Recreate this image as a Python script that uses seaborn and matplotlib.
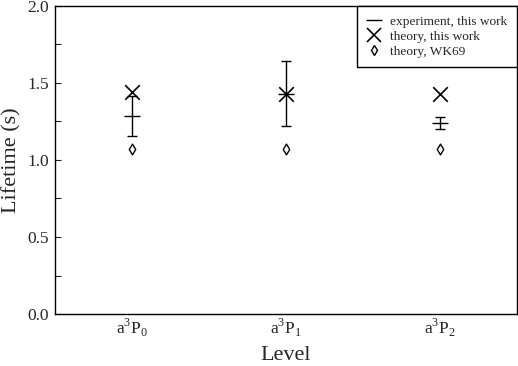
import numpy as np
import pandas as pd
import matplotlib.pyplot as plt
import seaborn as sns
from matplotlib.lines import Line2D

sns.set_theme(style="ticks")
plt.rcParams['font.family'] = ['Liberation Serif', 'DejaVu Serif']
plt.rcParams['mathtext.fontset'] = 'custom'
plt.rcParams['mathtext.rm'] = 'Liberation Serif'

levels = [r'a$^3$P$_0$', r'a$^3$P$_1$', r'a$^3$P$_2$']
exp_mean = [1.285, 1.43, 1.24]
exp_err = [0.13, 0.21, 0.04]
theory_this = [1.44, 1.43, 1.43]
theory_wk69 = [1.07, 1.07, 1.07]

pos = np.arange(len(levels)) + 0.5
df = pd.DataFrame({'pos': pos, 'exp': exp_mean, 'err': exp_err,
                   'theory': theory_this, 'wk69': theory_wk69})

fig, ax = plt.subplots(figsize=(5.18, 3.66), dpi=100)
ax.errorbar(df['pos'], df['exp'], yerr=df['err'], fmt='_', color='black',
            markersize=12, elinewidth=1, capsize=3.5, capthick=1)
sns.scatterplot(data=df, x='pos', y='theory', marker='x', s=110, color='black',
                linewidth=1.2, ax=ax, legend=False)
sns.scatterplot(data=df, x='pos', y='wk69', marker='d', s=30, facecolor='white',
                edgecolor='black', linewidth=1, ax=ax, legend=False)

ax.set_xlim(0, 3)
ax.set_ylim(0, 2)
ax.set_xticks(pos)
ax.set_xticklabels(levels, fontsize=12.5)
ax.tick_params(axis='x', length=0, pad=2)
ax.set_yticks(np.arange(0, 2.01, 0.5))
ax.set_yticks(np.arange(0, 2.01, 0.25), minor=True)
ax.set_yticklabels(['0.0', '0.5', '1.0', '1.5', '2.0'], fontsize=12.5)
ax.tick_params(axis='y', which='both', direction='in', length=4, width=0.8, pad=4)
ax.set_xlabel('Level', fontsize=16)
ax.set_ylabel('Lifetime (s)', fontsize=16)
ax.xaxis.set_label_coords(0.5, -0.103)
ax.yaxis.set_label_coords(-0.072, 0.5)
for s in ax.spines.values():
    s.set_linewidth(1)
    s.set_color('black')

handles = [
    Line2D([], [], color='black', marker='_', markersize=12, linestyle='none'),
    Line2D([], [], color='black', marker='x', markersize=10, markeredgewidth=1.2, linestyle='none'),
    Line2D([], [], color='black', marker='d', markersize=5.5, markerfacecolor='white',
           markeredgewidth=1, linestyle='none'),
]
labels = ['experiment, this work', 'theory, this work', 'theory, WK69']
leg = ax.legend(handles, labels, loc='upper right', fontsize=9.6, frameon=True,
                fancybox=False, framealpha=1, edgecolor='black', borderaxespad=0,
                handlelength=1.2, handletextpad=0.6, labelspacing=0.2,
                borderpad=0.7)
leg.get_frame().set_linewidth(1)

plt.subplots_adjust(left=0.106, right=0.998, top=0.984, bottom=0.142)
plt.savefig('out.png', dpi=100)
